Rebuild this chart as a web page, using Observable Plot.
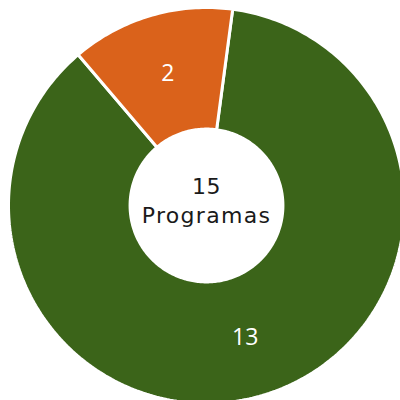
<!DOCTYPE html>
<html>
<head>
<meta charset="utf-8">
<script src="https://cdn.jsdelivr.net/npm/d3@7"></script>
<script src="https://cdn.jsdelivr.net/npm/@observablehq/plot@0.6"></script>
<style>
  html, body { margin: 0; padding: 0; background: #fff; }
  #chart { width: 400px; height: 400px; }
</style>
</head>
<body>
<div id="chart"></div>
<script>
// Data
const categories = ["Categoría A", "Categoría B"];
const values = [13, 2];
const colors = ["#3b6419", "#da621b"];
const centerLines = ["15", "Programas"];

// Donut geometry (in unit radius)
const innerRatio = 0.386;
const startDeg = 7.6;

const pie = d3.pie().sort(null).value(d => d.value)
  .startAngle(startDeg * Math.PI / 180)
  .endAngle(startDeg * Math.PI / 180 + 2 * Math.PI);
const arcs = pie(categories.map((c, i) => ({category: c, value: values[i]})));

// Build outline points for each slice
const pts = [];
arcs.forEach(a => {
  const n = Math.max(8, Math.ceil((a.endAngle - a.startAngle) / (Math.PI / 180)));
  for (let k = 0; k <= n; k++) {
    const t = a.startAngle + (a.endAngle - a.startAngle) * k / n;
    pts.push({category: a.data.category, x: Math.sin(t), y: Math.cos(t)});
  }
  for (let k = n; k >= 0; k--) {
    const t = a.startAngle + (a.endAngle - a.startAngle) * k / n;
    pts.push({category: a.data.category, x: innerRatio * Math.sin(t), y: innerRatio * Math.cos(t)});
  }
  const t0 = a.startAngle;
  pts.push({category: a.data.category, x: Math.sin(t0), y: Math.cos(t0)});
});

const labelR = (1 + innerRatio) / 2;
const labels = arcs.map(a => {
  const m = (a.startAngle + a.endAngle) / 2;
  return {label: String(a.data.value), x: labelR * Math.sin(m), y: labelR * Math.cos(m)};
});

const R = 198, cx = 206, cy = 205;
const chart = Plot.plot({
  width: 400,
  height: 400,
  margin: 0,
  x: {domain: [-cx / R, (400 - cx) / R], axis: null},
  y: {domain: [(cy - 400) / R, cy / R], axis: null},
  color: {domain: categories, range: colors},
  style: {background: "#fff"},
  marks: [
    Plot.line(pts, {x: "x", y: "y", z: "category", fill: "category", stroke: "#fff", strokeWidth: 3, strokeLinejoin: "miter", curve: "linear"}),
    Plot.text(labels, {x: "x", y: "y", text: "label", fill: "#fff", fontSize: 23, fontFamily: "Open Sans", lineAnchor: "middle"}),
    Plot.text([centerLines[0]], {x: () => 0, y: () => 0, text: d => d, dy: -19, fill: "#1a1a1a", fontSize: 22, fontFamily: "DejaVu Sans", lineAnchor: "middle"}),
    Plot.text([centerLines[1]], {x: () => 0, y: () => 0, text: d => d, dy: 10.5, fill: "#1a1a1a", fontSize: 22, fontFamily: "DejaVu Sans", lineAnchor: "middle"})
  ]
});
// letter spacing for the center text to match the wide geometric face
chart.querySelectorAll("text").forEach(t => {
  if (t.textContent === centerLines[1]) t.setAttribute("letter-spacing", "1.3");
  if (t.textContent === centerLines[0]) t.setAttribute("letter-spacing", "0.5");
});
document.getElementById("chart").appendChild(chart);
</script>
</body>
</html>
